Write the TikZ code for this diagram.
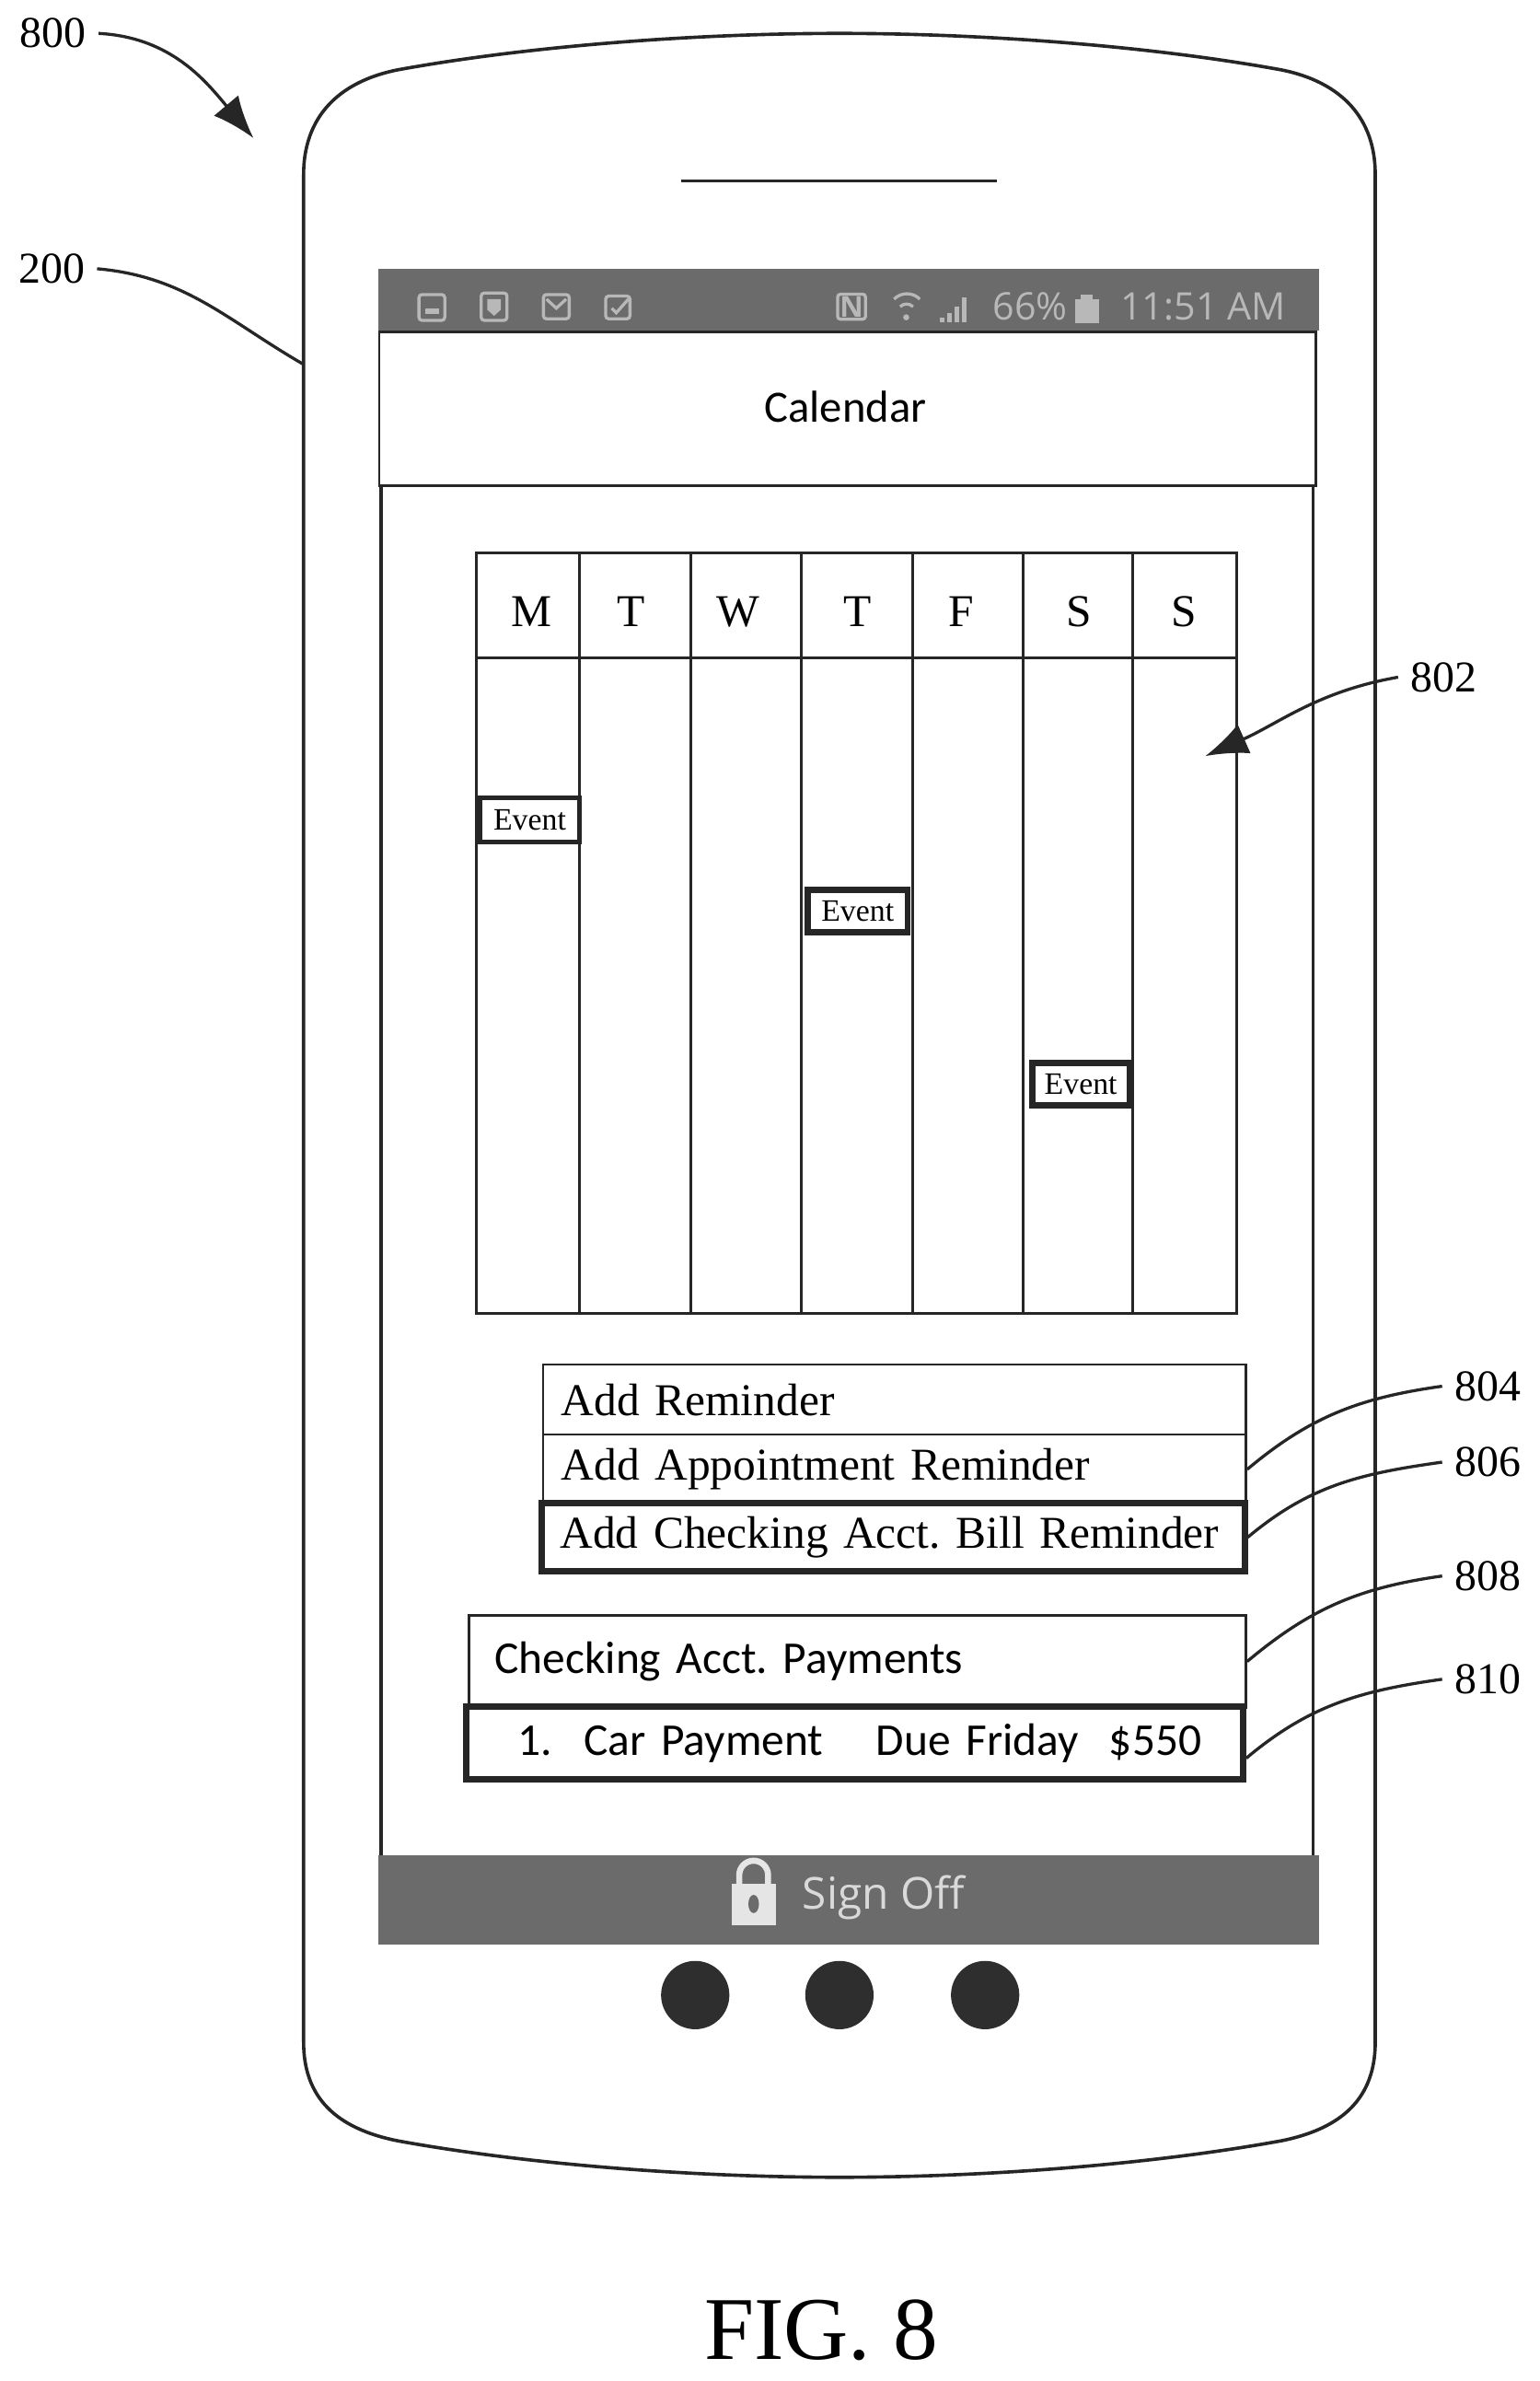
\documentclass[tikz,border=0pt]{standalone}
\usepackage{fontspec}
\setmainfont{Liberation Serif}
\newfontfamily\calfont{Carlito}
\newfontfamily\phonefont{Open Sans}
\usetikzlibrary{arrows.meta}

\definecolor{bargray}{gray}{0.42}
\definecolor{iconlight}{gray}{0.72}

\tikzset{
  thinbox/.style={draw=black!85, line width=1.6pt, fill=white},
  boldbox/.style={draw=black!85, line width=4pt, fill=white},
  rowbox/.style={thinbox, anchor=north west, inner xsep=12pt, inner ysep=0pt, align=left},
  refnum/.style={font=\fontsize{29}{29}\selectfont, inner ysep=1pt, inner xsep=8pt},
  leader/.style={draw=black!85, line width=2pt},
  bigtip/.style={-{Latex[length=28pt,width=21pt]}},
  daytext/.style={font=\fontsize{30}{30}\selectfont},
  eventtext/.style={font=\fontsize{20.5}{20.5}\selectfont, inner sep=0pt, anchor=north west, align=center},
  serifrow/.style={font=\fontsize{30}{30}\selectfont},
  calrow/.style={font=\calfont\fontsize{30}{30}\selectfont},
  statustext/.style={font=\phonefont\fontsize{25}{25}\selectfont, text=iconlight, inner sep=0pt},
  staticon/.style={draw=iconlight, line width=2pt, rounded corners=2pt},
  knob/.style={circle, fill=black!82, minimum size=45pt, inner sep=0pt},
}

\begin{document}
\frenchspacing
\begin{tikzpicture}[x=1pt, y=-1pt]
\useasboundingbox (0,0) rectangle (1014.5,1568.2);


% phone body
\draw[black!85, line width=2.2pt] (200,115) .. controls (200,78) and (222,54) .. (262,46)
  .. controls (350,30) and (460,22) .. (553,22)
  .. controls (646,22) and (756,30) .. (844,46)
  .. controls (884,54) and (906,78) .. (906,115)
  -- (906,1345)
  .. controls (906,1382) and (884,1402) .. (844,1410)
  .. controls (756,1426) and (646,1434) .. (553,1434)
  .. controls (460,1434) and (350,1426) .. (262,1410)
  .. controls (222,1402) and (200,1382) .. (200,1345) -- cycle;

\draw[black!85, line width=2pt] (449,119)--++(208,0);


% screen
\draw[black!85, line width=2.2pt] (251,319)--(251,1224);
\draw[black!85, line width=2.2pt] (865,319)--(865,1224);

\fill[bargray] (249,177)--++(620,0)--++(0,41)--++(-620,0);
\fill[bargray] (249,1222)--++(620,0)--++(0,59)--++(-620,0);

\node[thinbox, anchor=north west, minimum width=617pt, minimum height=101pt, inner sep=0pt] (header) at (249,218) {};
\node[calrow, font=\calfont\fontsize{29.5}{29.5}\selectfont] (calendar) at (557,268) {Calendar};


% status bar
\draw[staticon] (276,194) rectangle ++(17,17);
\draw[staticon] (317,193) rectangle ++(17,18);
\draw[staticon] (358,194) rectangle ++(17,16);
\draw[staticon] (399,195) rectangle ++(16,15);
\fill[iconlight] (280,203)--++(9,0)--++(0,4)--++(-9,0);
\fill[iconlight] (321,197)--++(9,0)--++(0,7)--++(-4.5,4)--++(-4.5,-4);
\draw[iconlight, line width=2pt] (360,197)--++(6.5,6)--++(6.5,-6);
\draw[iconlight, line width=2pt] (403,203)--++(3,3)--++(8,-9);

\node[staticon, font=\phonefont\bfseries\fontsize{19}{19}\selectfont, text=iconlight, inner sep=1.5pt] (nfc) at (561,202) {N};
\draw[iconlight, line width=2pt] (589,197) arc [start angle=-135, end angle=-45, radius=12];
\draw[iconlight, line width=2pt] (593,202) arc [start angle=-135, end angle=-45, radius=6];
\fill[iconlight] (597,209) circle [radius=2];

\fill[iconlight] (619,209)--++(3,0)--++(0,3)--++(-3,0);
\fill[iconlight] (624,206)--++(3,0)--++(0,6)--++(-3,0);
\fill[iconlight] (629,202)--++(3,0)--++(0,10)--++(-3,0);
\fill[iconlight] (634,196)--++(3,0)--++(0,16)--++(-3,0);

\node[statustext, anchor=west] (battery) at (654,202) {66\%};
\fill[iconlight] (708,197)--++(16,0)--++(0,16)--++(-16,0);
\fill[iconlight] (712,194)--++(8,0)--++(0,3)--++(-8,0);
\node[statustext, anchor=west] (clock) at (738,202) {11:51 AM};


% week table
\draw[black!85, line width=1.8pt] (314,364) rectangle (815,865);
\draw[black!85, line width=1.8pt] (314,433)--++(501,0);
\draw[black!85, line width=1.8pt] (382,364)--++(0,501);
\draw[black!85, line width=1.8pt] (455,364)--++(0,501);
\draw[black!85, line width=1.8pt] (528,364)--++(0,501);
\draw[black!85, line width=1.8pt] (601,364)--++(0,501);
\draw[black!85, line width=1.8pt] (674,364)--++(0,501);
\draw[black!85, line width=1.8pt] (746,364)--++(0,501);

\node[daytext] (dayM) at (350,403) {M};
\node[daytext] (dayTa) at (416,403) {T};
\node[daytext] (dayW) at (486,403) {W};
\node[daytext] (dayTb) at (565,403) {T};
\node[daytext] (dayF) at (633,403) {F};
\node[daytext] (daySa) at (711,403) {S};
\node[daytext] (daySb) at (780,403) {S};

\node[thinbox, eventtext, line width=3pt, minimum width=65pt, minimum height=29pt] (eventa) at (315,524) {Event};
\node[boldbox, eventtext, minimum width=66pt, minimum height=28pt] (eventb) at (530,584) {Event};
\node[boldbox, eventtext, minimum width=64pt, minimum height=28pt] (eventc) at (678,698) {Event};


% reminder rows
\node[rowbox, serifrow, text width=439pt, minimum height=46pt] (remA) at (357,898) {Add Reminder};
\node[rowbox, serifrow, text width=439pt, minimum height=46pt] (remB) at (357,944) {Add Appointment Reminder};
\node[rowbox, serifrow, boldbox, text width=439pt, minimum height=45pt] (remC) at (355,988) {Add Checking Acct. Bill Reminder};

\node[rowbox, calrow, inner xsep=17pt, text width=478pt, minimum height=61pt] (payA) at (308,1063) {Checking Acct. Payments};
\node[rowbox, calrow, boldbox, text width=488pt, minimum height=48pt] (payB) at (305,1122) {\hspace*{22pt}1.\hspace{21pt}Car Payment\hspace{35pt}Due Friday\hspace{20pt}\$550};


% lower bar
\fill[white!90!black] (482,1241)--++(29,0)--++(0,27)--++(-29,0);
\draw[white!90!black, line width=4pt] (487,1242)--++(0,-7) arc [start angle=180, end angle=360, radius=9.5]--++(0,7);
\fill[bargray] (496.5,1254) ellipse [x radius=3.5, y radius=6];
\node[font=\phonefont\fontsize{29}{29}\selectfont, text=white!85!black, inner sep=0pt] (signoff) at (582,1250) {Sign Off};

\node[knob] (knobA) at (458,1314) {};
\node[knob] (knobB) at (553,1314) {};
\node[knob] (knobC) at (649,1314) {};


% reference numbers
\node[refnum] (n800) at (35,22) {800};
\node[refnum] (n200) at (34,177) {200};
\node[refnum] (n802) at (951,446) {802};
\node[refnum] (n804) at (980,913) {804};
\node[refnum] (n806) at (980,963) {806};
\node[refnum] (n808) at (980,1038) {808};
\node[refnum] (n810) at (980,1106) {810};

\coordinate (tip800) at (167,91);
\coordinate (edge200) at (200,240);
\coordinate (tip802) at (794,498);

\draw[leader, bigtip] (n800.east) to[out=-3, in=130] (tip800);
\draw[leader] (n200.east) to[out=-5, in=150] (edge200);
\draw[leader, bigtip] (n802.west) to[out=190, in=24] (tip802);
\draw[leader] (n804.west) to[out=188, in=40] (remB.east);
\draw[leader] (n806.west) to[out=188, in=40] (remC.east);
\draw[leader] (n808.west) to[out=188, in=40] (payA.east);
\draw[leader] (n810.west) to[out=188, in=40] ([yshift=-10pt]payB.east);


\node[font=\fontsize{59}{59}\selectfont, inner sep=0pt] (figlabel) at (541,1535) {FIG. 8};

\end{tikzpicture}
\end{document}
